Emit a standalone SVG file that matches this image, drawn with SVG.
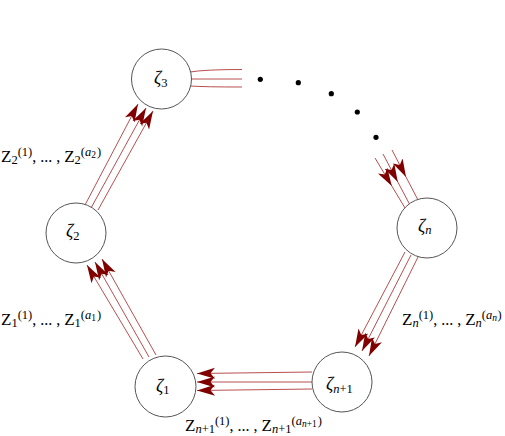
<svg xmlns="http://www.w3.org/2000/svg" width="505" height="436" viewBox="0 0 505 436">
<style>
.node circle{fill:#fff;stroke:#555;stroke-width:1}
.nl{font-family:"Liberation Serif","Times New Roman",serif;font-size:18px;fill:#000}
.it{font-style:italic}
.s{font-size:12.5px}
.ss{font-size:9.5px}
.m{font-size:16px}
.e{fill:none;stroke:#b03a3a;stroke-width:0.9}
.lab{font-family:"Liberation Serif","Times New Roman",serif;font-size:17px;fill:#000}
.dot{fill:#000}
</style>
<defs>
<marker id="ah" markerUnits="userSpaceOnUse" markerWidth="19" markerHeight="12" viewBox="0 0 19 12" refX="18" refY="6" orient="auto">
<path d="M18,6 L0,0.5 L4.5,6 L0,11.5 Z" fill="#800000"/>
</marker>
</defs>
<g id="connectors">
<g id="e12">
<path class="e" d="M143,359 L87,265" marker-end="url(#ah)"/>
<path class="e" d="M149,357 L95,262" marker-end="url(#ah)"/>
<path class="e" d="M156,355 L102,259" marker-end="url(#ah)"/>
</g>
<g id="e23">
<path class="e" d="M85,205 L138,104" marker-end="url(#ah)"/>
<path class="e" d="M91,208 L146,108" marker-end="url(#ah)"/>
<path class="e" d="M98,210 L153,111" marker-end="url(#ah)"/>
</g>
<g id="e3d">
<path class="e" d="M190,72 Q205,69.5 242,69.5"/>
<path class="e" d="M191,79 L242,79"/>
<path class="e" d="M190,86 Q205,87 242,87"/>
</g>
<g id="dots">
<circle class="dot" cx="260.3" cy="79.3" r="2.6"/>
<circle class="dot" cx="298.3" cy="82.7" r="2.6"/>
<circle class="dot" cx="331.3" cy="93.7" r="2.6"/>
<circle class="dot" cx="357.3" cy="112" r="2.6"/>
<circle class="dot" cx="376" cy="137.3" r="2.6"/>
</g>
<g id="edn">
<path class="e" d="M375,158 L391.8,186" marker-end="url(#ah)"/>
<path class="e" d="M391.8,186 L405,208"/>
<path class="e" d="M383,154 L397.8,182" marker-end="url(#ah)"/>
<path class="e" d="M397.8,182 L410,205"/>
<path class="e" d="M392,150 L406,177" marker-end="url(#ah)"/>
<path class="e" d="M406,177 L418,200"/>
</g>
<g id="enn1">
<path class="e" d="M405,252 L355,347" marker-end="url(#ah)"/>
<path class="e" d="M411,255 L362,351" marker-end="url(#ah)"/>
<path class="e" d="M418,257 L369,356" marker-end="url(#ah)"/>
</g>
<g id="en11">
<path class="e" d="M312,372 L197,373.5" marker-end="url(#ah)"/>
<path class="e" d="M312,382 L197,382" marker-end="url(#ah)"/>
<path class="e" d="M312,389 L197,390.5" marker-end="url(#ah)"/>
</g>
</g>
<g id="node-z3" class="node">
<circle cx="161.5" cy="79" r="30"/>
<text class="nl" x="154" y="84"><tspan class="it">ζ</tspan><tspan class="s" dy="3">3</tspan></text>
</g>
<g id="node-z2" class="node">
<circle cx="76" cy="233" r="30"/>
<text class="nl" x="66" y="237"><tspan class="it">ζ</tspan><tspan class="s" dy="3">2</tspan></text>
</g>
<g id="node-z1" class="node">
<circle cx="165.5" cy="386.5" r="30.5"/>
<text class="nl" x="156" y="392"><tspan class="it">ζ</tspan><tspan class="s" dy="2">1</tspan></text>
</g>
<g id="node-zn" class="node">
<circle cx="427" cy="228" r="30"/>
<text class="nl" x="418" y="232"><tspan class="it">ζ</tspan><tspan class="s it" dy="2">n</tspan></text>
</g>
<g id="node-zn1" class="node">
<circle cx="342" cy="382" r="30"/>
<text class="nl" x="326" y="390"><tspan class="it">ζ</tspan><tspan class="s" dy="3"><tspan class="it">n</tspan>+1</tspan></text>
</g>
<g id="labels">
<text class="lab" x="1" y="162">Z<tspan class="s" dy="2">2</tspan><tspan class="s" dy="-8.5">(1)</tspan><tspan class="m" dy="6.5">, ... , </tspan><tspan>Z</tspan><tspan class="s" dy="2">2</tspan><tspan class="s" dy="-8.5">(<tspan class="it">a</tspan><tspan class="ss" dy="2.5">2</tspan><tspan dx="1" dy="-2.5">)</tspan></tspan></text>
<text class="lab" x="1" y="325">Z<tspan class="s" dy="2">1</tspan><tspan class="s" dy="-8.5">(1)</tspan><tspan class="m" dy="6.5">, ... , </tspan><tspan>Z</tspan><tspan class="s" dy="2">1</tspan><tspan class="s" dy="-8.5">(<tspan class="it">a</tspan><tspan class="ss" dy="2.5">1</tspan><tspan dx="1" dy="-2.5">)</tspan></tspan></text>
<text class="lab" x="402" y="325">Z<tspan class="s it" dy="2">n</tspan><tspan class="s" dy="-8.5">(1)</tspan><tspan class="m" dy="6.5">, ... , </tspan><tspan>Z</tspan><tspan class="s it" dy="2">n</tspan><tspan class="s" dy="-8.5">(<tspan class="it">a</tspan><tspan class="ss it" dy="2.5">n</tspan><tspan dx="0.5" dy="-2.5">)</tspan></tspan></text>
<text class="lab" x="185" y="431">Z<tspan class="s" dy="2"><tspan class="it">n</tspan>+1</tspan><tspan class="s" dy="-8.5">(1)</tspan><tspan class="m" dy="6.5">, ... , </tspan><tspan>Z</tspan><tspan class="s" dy="2"><tspan class="it">n</tspan>+1</tspan><tspan class="s" dy="-8.5">(<tspan class="it">a</tspan><tspan class="ss" dy="2.5"><tspan class="it">n</tspan>+1</tspan><tspan dx="1" dy="-2.5">)</tspan></tspan></text>
</g>
</svg>
